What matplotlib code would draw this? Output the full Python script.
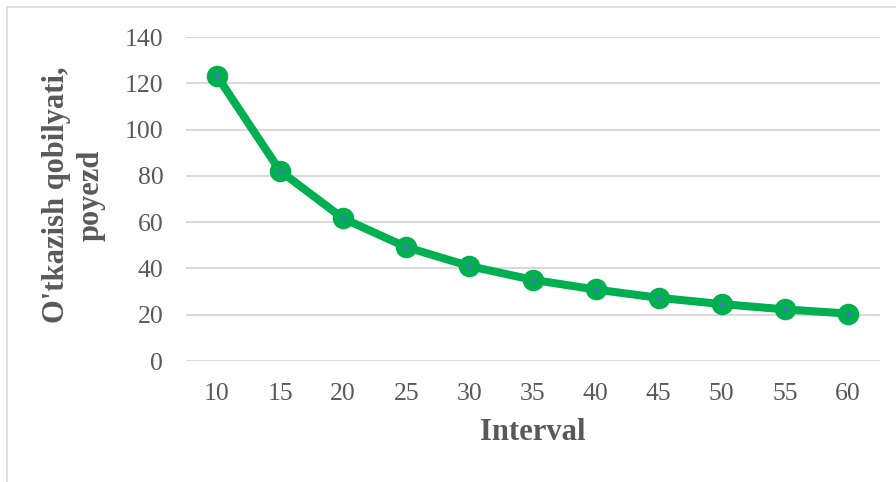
import matplotlib.pyplot as plt
from matplotlib.patches import Rectangle

# Значения
intervals = [10, 15, 20, 25, 30, 35, 40, 45, 50, 55, 60]
capacity = [123.1, 82.1, 61.6, 49.2, 41.0, 35.1, 30.9, 27.3, 24.6, 22.3, 20.5]
y_ticks = [0, 20, 40, 60, 80, 100, 120, 140]

plt.rcParams['font.family'] = ['Liberation Serif', 'DejaVu Serif']

fig = plt.figure(figsize=(8.96, 4.82), dpi=100)
W, H = 896, 482

# рамка области диаграммы
fig.patches.append(Rectangle((7 / W, -0.05), 1.0, 1.05 - 7 / H, transform=fig.transFigure,
                             fill=False, edgecolor="#D9D9D9", linewidth=1.2))

ax = fig.add_axes([185.5 / W, (H - 361) / H, (879.5 - 185.5) / W, (361 - 37) / H])

ax.plot(intervals, capacity, color="#00B050", linewidth=5.8, marker="o", markersize=9.5,
        markerfacecolor="#4472C4", markeredgecolor="#00B050", markeredgewidth=6,
        solid_capstyle="round", zorder=3)

ax.set_xlim(7.5, 62.5)
ax.set_ylim(0, 140)
ax.set_xticks(intervals)
ax.set_yticks(y_ticks)
ax.grid(axis="y", color="#D9D9D9", linewidth=1.5)
ax.set_axisbelow(True)
for s in ax.spines.values():
    s.set_visible(False)
ax.tick_params(length=0, labelsize=18.5, labelcolor="#595959")
ax.tick_params(axis="y", pad=16)
ax.tick_params(axis="x", pad=16)

fig.text(533 / W, 1 - 433 / H, "Interval", ha="center", va="center",
         fontsize=22, fontweight="bold", color="#595959")
fig.text(74 / W, 1 - 195 / H, "O'tkazish qobilyati,\npoyezd", ha="center", va="center",
         rotation=90, fontsize=22, fontweight="bold", color="#595959", linespacing=1.25)

fig.savefig("out.png", dpi=100)
